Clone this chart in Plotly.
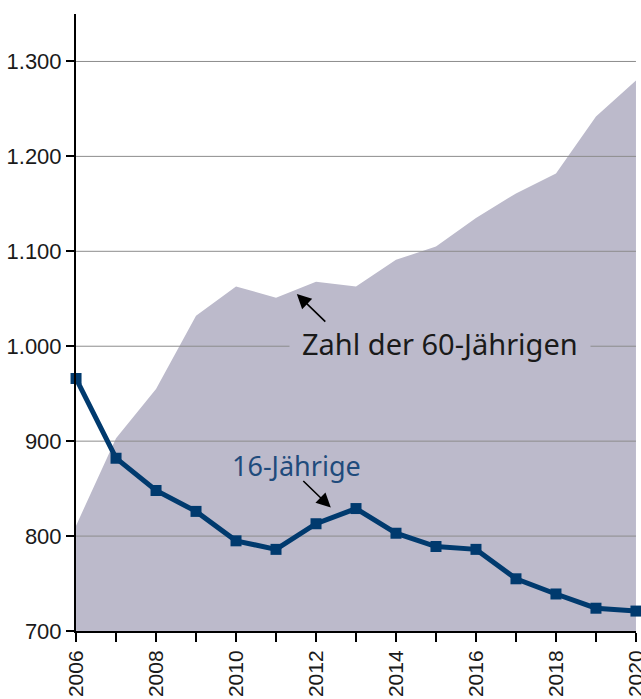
import plotly.graph_objects as go

years = list(range(2006, 2021))
age60 = [811, 903, 955, 1032, 1063, 1051, 1068, 1063, 1091, 1105, 1135, 1161, 1182, 1242, 1280]
age16 = [966, 882, 848, 826, 795, 786, 813, 829, 803, 789, 786, 755, 739, 724, 721]
y_ticks = [700, 800, 900, 1000, 1100, 1200, 1300]
x_labels = [str(y) if y % 2 == 0 else "" for y in years]

FILL = "#bcbacb"
NAVY = "#003a6e"

fig = go.Figure()
fig.add_trace(go.Scatter(x=years, y=age60, mode="lines", fill="tozeroy",
                         fillcolor=FILL, line=dict(width=0, color=FILL),
                         hoverinfo="skip", showlegend=False))

# gridlines above the area
gx, gy = [], []
for t in y_ticks[1:]:
    gx += [years[0], years[-1], None]
    gy += [t, t, None]
fig.add_trace(go.Scatter(x=gx, y=gy, mode="lines", line=dict(color="#8c8c8c", width=1),
                         hoverinfo="skip", showlegend=False))

fig.add_trace(go.Scatter(x=years, y=age16, mode="lines+markers",
                         line=dict(color=NAVY, width=5),
                         marker=dict(symbol="square", size=11, color=NAVY),
                         cliponaxis=False, showlegend=False))

fig.add_annotation(x=2015.1, y=1003, text="Zahl der 60-Jährigen", showarrow=False,
                   font=dict(family="Noto Sans", size=29, color="#1a1a1a"),
                   bgcolor=FILL, borderpad=12)
fig.add_annotation(x=2011.52, y=1055, text="", showarrow=True, ax=30, ay=29,
                   arrowhead=2, arrowsize=1.8, arrowwidth=1.6, arrowcolor="#000000", standoff=0)
fig.add_annotation(x=2011.5, y=874, text="16-Jährige", showarrow=False,
                   font=dict(family="Noto Sans", size=27, color="#1f4b7c"))
fig.add_annotation(x=2012.37, y=830, text="", showarrow=True, ax=-29, ay=-28,
                   arrowhead=2, arrowsize=1.8, arrowwidth=1.6, arrowcolor="#000000", standoff=0)

fig.update_layout(
    width=641, height=699,
    margin=dict(l=76, r=5, t=14, b=68),
    plot_bgcolor="white", paper_bgcolor="white",
    separators=",.",
    font=dict(family="Liberation Sans", size=22, color="#1a1a1a"),
)
fig.update_xaxes(range=[2005.999, 2020.001], tickvals=years, ticktext=x_labels, tickangle=-90,
                 automargin=False, ticklabeloverflow="allow", tickfont=dict(size=21),
                 showgrid=False, zeroline=False, showline=True, linecolor="black", linewidth=2,
                 ticks="outside", ticklen=9, tickwidth=1.5, tickcolor="black")
fig.update_yaxes(range=[700, 1350], tickvals=y_ticks, tickformat=",d", automargin=False,
                 tickfont=dict(size=22),
                 showgrid=False, zeroline=False, showline=True, linecolor="black", linewidth=2,
                 ticks="outside", ticklen=8, tickwidth=1.5, tickcolor="black")

fig.write_html("out.html", config={"displayModeBar": False},
               post_script="document.body.style.margin='0px';document.body.style.overflow='hidden';")
